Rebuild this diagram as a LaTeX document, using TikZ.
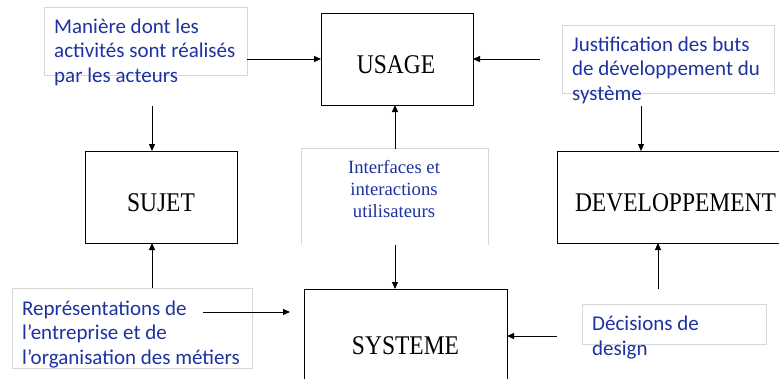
\documentclass[tikz,border=0pt]{standalone}
\usepackage{fontspec}
\setmainfont{Liberation Serif}
\newfontfamily\calib{Carlito}
\newfontfamily\labfont[FakeStretch=0.87]{Liberation Serif}
\usetikzlibrary{arrows.meta}
\definecolor{txtblue}{RGB}{30,50,160}
\definecolor{boxgrey}{RGB}{215,215,215}
\begin{document}
\begin{tikzpicture}[x=1pt,y=-1pt,
  mainbox/.style={draw=black,line width=0.9pt,inner sep=0pt,outer sep=0pt},
  labtext/.style={font=\labfont\fontsize{27}{30}\selectfont,inner sep=0pt,anchor=base},
  greybox/.style={draw=boxgrey,line width=0.8pt,inner sep=0pt,outer sep=0pt},
  bluetext/.style={text=txtblue,font=\calib\fontsize{21}{24.5}\selectfont,align=left,inner sep=0pt,anchor=base west},
  midtext/.style={text=txtblue,font=\fontsize{18.7}{22}\selectfont,align=center,inner sep=0pt,anchor=base},
  conn/.style={line width=0.9pt,-{Triangle[length=7pt,width=6pt]}}]
\clip (0,0) rectangle (779,378);
\fill[white] (0,0) rectangle (779,378);
% main boxes
\node[mainbox,minimum width=152pt,minimum height=92pt] (usage) at (397,59) {};
\node[labtext] (usagel) at (396,73) {USAGE};
\node[mainbox,minimum width=152pt,minimum height=92pt] (sujet) at (161,197) {};
\node[labtext] (sujetl) at (161,211) {SUJET};
\node[mainbox,minimum width=237pt,minimum height=92pt] (dev) at (675.5,197) {};
\node[labtext] (devl) at (675.5,211) {DEVELOPPEMENT};
\node[mainbox,minimum width=203pt,minimum height=120pt] (sys) at (405.5,349) {};
\node[labtext] (sysl) at (405.5,354) {SYSTEME};
% grey text boxes
\node[greybox,minimum width=203pt,minimum height=68pt] (tl) at (145.5,41) {};
\node[bluetext] (tlt) at (54,82) {Manière dont les\\activités sont réalisés\\par les acteurs};
\node[greybox,minimum width=212pt,minimum height=68pt] (tr) at (668,59) {};
\node[bluetext] (trt) at (572,100) {Justification des buts\\de développement du\\système};
\node[greybox,minimum width=240pt,minimum height=80pt] (bl) at (132,328) {};
\node[bluetext] (blt) at (22,364) {Représentations de\\l’entreprise et de\\l’organisation des métiers};
\node[greybox,minimum width=184pt,minimum height=40pt] (br) at (674,324) {};
\node[bluetext] (brt) at (592,355) {Décisions de\\design};
\node[inner sep=0pt,minimum width=186pt,minimum height=96pt] (mid) at (395,197) {};
\draw[boxgrey,line width=0.8pt] (mid.south west) -- (mid.north west) -- (mid.north east) -- (mid.south east);
\node[midtext] (midt) at (394,217) {Interfaces et\\interactions\\utilisateurs};
% connectors
\draw[conn] (tl.east |- usage.west) -- (usage.west);
\coordinate (trs) at (540,59);
\draw[conn] (trs) -- (usage.east);
\coordinate (tls) at (152,106);
\draw[conn] (tls) -- (tls |- sujet.north);
\draw[conn] (mid.north) -- (mid.north |- usage.south);
\draw[conn] (mid.south) -- (mid.south |- sys.north);
\coordinate (bls) at (152,288);
\draw[conn] (bls) -- (bls |- sujet.south);
\coordinate (bls2) at (203,312);
\coordinate (ble) at (290,312);
\draw[conn] (bls2) -- (ble);
\coordinate (trd) at (641,106);
\draw[conn] (trd) -- (trd |- dev.north);
\coordinate (brd) at (658,289);
\draw[conn] (brd) -- (brd |- dev.south);
\coordinate (brs) at (557,336);
\draw[conn] (brs) -- (brs -| sys.east);
\end{tikzpicture}
\end{document}
